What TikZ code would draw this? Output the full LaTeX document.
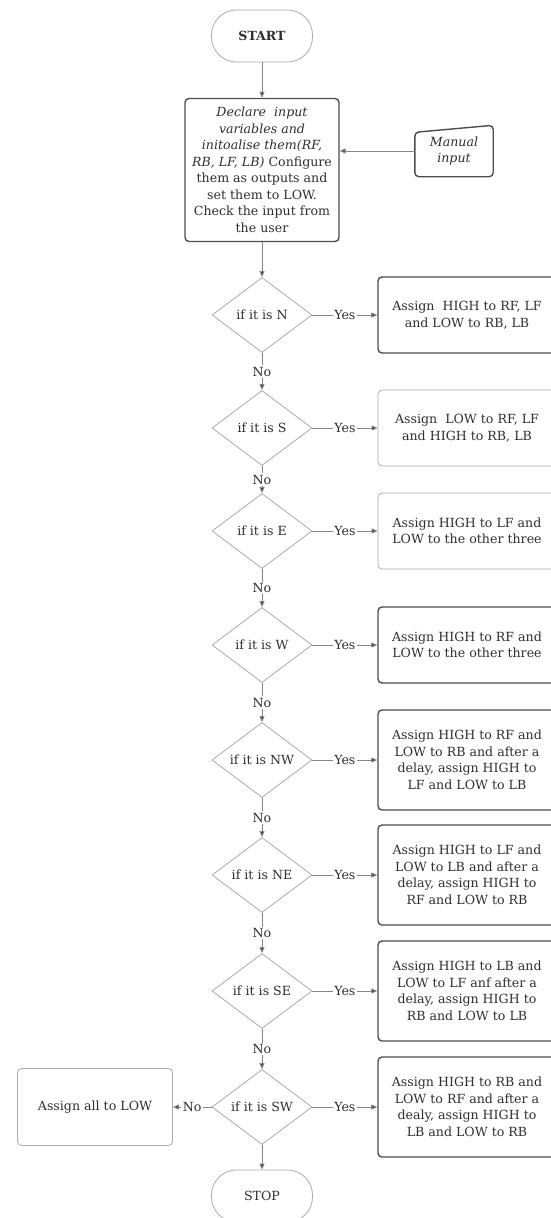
\documentclass[tikz,border=0pt]{standalone}
\usepackage{fontspec}
\setmainfont{DejaVu Serif}
\usetikzlibrary{shapes.geometric, positioning, arrows.meta}

\definecolor{linegray}{HTML}{858585}
\definecolor{darkedge}{HTML}{4D4D4D}
\definecolor{lightedge}{HTML}{ABABAB}
\definecolor{textgray}{HTML}{2E2E2E}

\begin{document}
\begin{tikzpicture}[x=1pt, y=-1pt, font=\fontsize{12.6}{16.5}\selectfont, text=textgray]

        % Setup the styles for the shapes
        \tikzset{terminal/.style={rectangle, rounded corners=25pt,
                                  draw=lightedge, line width=0.8pt,
                                  minimum width=101pt, minimum height=52pt},
                 process/.style={rectangle, rounded corners=4pt, align=center,
                                 draw=darkedge, line width=1.4pt,
                                 minimum width=178pt, minimum height=76pt},
                 light process/.style={process, draw=lightedge, line width=0.8pt},
                 decision/.style={diamond, aspect=1.33, inner sep=0pt,
                                  draw=lightedge, line width=0.8pt,
                                  minimum width=100pt, minimum height=75pt},
                 flow/.style={draw=linegray, line width=0.8pt,
                              -{Triangle[length=6pt, width=5pt, fill=darkedge]}},
                 answer/.style={fill=white, inner sep=1.5pt}}

        \useasboundingbox (0, 0) rectangle (550, 1218);

        % Draw the start, the set up and the input
        \node[terminal] at (262, 36)   (start)   {\textbf{START}};
        \node[process, minimum width=154pt, minimum height=143pt]
                        at (262, 170)  (declare) {{\itshape Declare\ \ input}\\
                                                  {\itshape variables and}\\
                                                  {\itshape initoalise them(RF,}\\
                                                  {\itshape RB, LF, LB)} Configure\\
                                                  them as outputs and\\
                                                  set them to LOW.\\
                                                  Check the input from\\
                                                  the user};
        \node[align=center, minimum width=78pt, minimum height=51pt]
                        at (454, 151)  (manual)  {{\itshape Manual}\\ {\itshape input}};
        \draw[darkedge, line width=1.4pt, rounded corners=4pt]
            (manual.south west) -- (manual.south east) -- (manual.north east)
            -- ([yshift=-7pt]manual.north west) -- cycle;

        % Draw the checks of the direction
        \node[decision] at (262, 315)  (N)  {if it is N};
        \node[decision] at (262, 428)  (S)  {if it is S};
        \node[decision] at (262, 531)  (E)  {if it is E};
        \node[decision] at (262, 645)  (W)  {if it is W};
        \node[decision] at (262, 760)  (NW) {if it is NW};
        \node[decision] at (262, 875)  (NE) {if it is NE};
        \node[decision] at (262, 991)  (SE) {if it is SE};
        \node[decision] at (262, 1107) (SW) {if it is SW};

        % Draw the outputs for each direction
        \node[process]       at (467, 315)  (setN)  {Assign\ \ HIGH to RF, LF\\ and LOW to RB, LB};
        \node[light process] at (467, 428)  (setS)  {Assign\ \ LOW to RF, LF\\ and HIGH to RB, LB};
        \node[light process] at (467, 531)  (setE)  {Assign HIGH to LF and\\ LOW to the other three};
        \node[process]       at (467, 645)  (setW)  {Assign HIGH to RF and\\ LOW to the other three};
        \node[process, minimum height=100pt]
                             at (467, 760)  (setNW) {Assign HIGH to RF and\\ LOW to RB and after a\\
                                                     delay, assign HIGH to\\ LF and LOW to LB};
        \node[process, minimum height=100pt]
                             at (467, 875)  (setNE) {Assign HIGH to LF and\\ LOW to LB and after a\\
                                                     delay, assign HIGH to\\ RF and LOW to RB};
        \node[process, minimum height=100pt]
                             at (467, 991)  (setSE) {Assign HIGH to LB and\\ LOW to LF anf after a\\
                                                     delay, assign HIGH to\\ RB and LOW to LB};
        \node[process, minimum height=100pt]
                             at (467, 1107) (setSW) {Assign HIGH to RB and\\ LOW to RF and after a\\
                                                     dealy, assign HIGH to\\ LB and LOW to RB};
        \node[light process, minimum width=155pt, minimum height=77pt]
                             at (95, 1107)  (allLow) {Assign all to LOW};
        \node[terminal] at (262, 1196) (stop) {STOP};

        % Connect the shapes with arrows
        \draw[flow] (start) -- (declare);
        \draw[flow] (manual.west) -- (manual.west -| declare.east);
        \draw[flow] (declare) -- (N);

        \draw[flow] (N)  -- node[answer] {No} (S);
        \draw[flow] (S)  -- node[answer] {No} (E);
        \draw[flow] (E)  -- node[answer] {No} (W);
        \draw[flow] (W)  -- node[answer] {No} (NW);
        \draw[flow] (NW) -- node[answer] {No} (NE);
        \draw[flow] (NE) -- node[answer] {No} (SE);
        \draw[flow] (SE) -- node[answer] {No} (SW);
        \draw[flow] (SW) -- (stop);
        \draw[flow] (SW) -- node[answer] {No} (allLow);

        \draw[flow] (N)  -- node[answer] {Yes} (setN);
        \draw[flow] (S)  -- node[answer] {Yes} (setS);
        \draw[flow] (E)  -- node[answer] {Yes} (setE);
        \draw[flow] (W)  -- node[answer] {Yes} (setW);
        \draw[flow] (NW) -- node[answer] {Yes} (setNW);
        \draw[flow] (NE) -- node[answer] {Yes} (setNE);
        \draw[flow] (SE) -- node[answer] {Yes} (setSE);
        \draw[flow] (SW) -- node[answer] {Yes} (setSW);
\end{tikzpicture}
\end{document}
